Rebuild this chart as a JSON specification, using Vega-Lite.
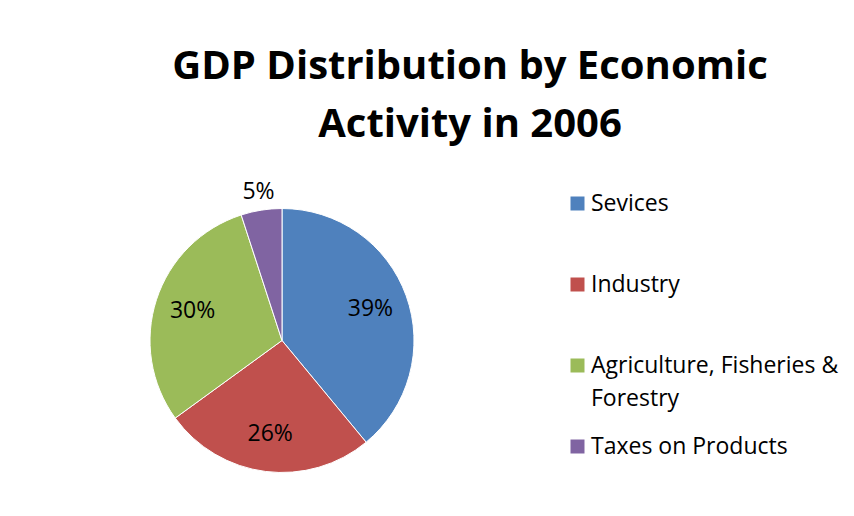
{
  "$schema": "https://vega.github.io/schema/vega-lite/v6.json",
  "width": 264,
  "height": 297,
  "autosize": {"type": "none"},
  "padding": {"left": 150, "top": 192, "right": 440, "bottom": 27},
  "background": "white",
  "title": {
    "text": ["GDP Distribution by Economic", "Activity in 2006"],
    "anchor": "middle",
    "frame": "group",
    "dx": 188,
    "fontSize": 40,
    "fontWeight": "bold",
    "font": "Open Sans",
    "lineHeight": 58,
    "color": "black",
    "offset": 36
  },
  "data": {
    "values": [
      {"category": "Sevices", "value": 0.39, "rank": 1},
      {"category": "Industry", "value": 0.26, "rank": 2},
      {"category": "Agriculture, Fisheries & Forestry", "value": 0.30, "rank": 3},
      {"category": "Taxes on Products", "value": 0.05, "rank": 4}
    ]
  },
  "encoding": {
    "theta": {"field": "value", "type": "quantitative", "stack": true},
    "order": {"field": "rank", "type": "quantitative"}
  },
  "layer": [
    {
      "mark": {"type": "arc", "radius": 132, "stroke": "white", "strokeWidth": 1},
      "encoding": {
        "color": {
          "field": "category",
          "type": "nominal",
          "sort": ["Sevices", "Industry", "Agriculture, Fisheries & Forestry", "Taxes on Products"],
          "scale": {
            "domain": ["Sevices", "Industry", "Agriculture, Fisheries & Forestry", "Taxes on Products"],
            "range": ["#4F81BD", "#C0504D", "#9BBB59", "#8064A2"]
          },
          "legend": {
            "title": null,
            "orient": "right",
            "offset": 152,
            "padding": 0,
            "symbolType": "square",
            "symbolSize": 196,
            "symbolStrokeWidth": 0,
            "labelFont": "Open Sans",
            "labelFontSize": 23,
            "labelColor": "black",
            "labelOffset": 2,
            "labelLimit": 400,
            "rowPadding": 24,
            "labelExpr": "datum.label == 'Agriculture, Fisheries & Forestry' ? ['Agriculture, Fisheries &', 'Forestry'] : [datum.label, '']"
          }
        }
      }
    },
    {
      "mark": {"type": "text", "radius": 94, "fontSize": 23, "font": "Open Sans", "align": "center", "baseline": "middle"},
      "encoding": {
        "detail": {"field": "category", "type": "nominal"},
        "color": {"value": "black"},
        "text": {"field": "value", "type": "quantitative", "format": ".0%", "condition": {"test": "datum.value < 0.1", "value": ""}}
      }
    },
    {
      "mark": {"type": "text", "radius": 150, "fontSize": 23, "font": "Open Sans", "align": "center", "baseline": "middle"},
      "encoding": {
        "detail": {"field": "category", "type": "nominal"},
        "color": {"value": "black"},
        "text": {"field": "value", "type": "quantitative", "format": ".0%", "condition": {"test": "datum.value >= 0.1", "value": ""}}
      }
    }
  ],
  "config": {
    "view": {"stroke": null},
    "style": {"guide-label": {"lineHeight": 33}}
  }
}
